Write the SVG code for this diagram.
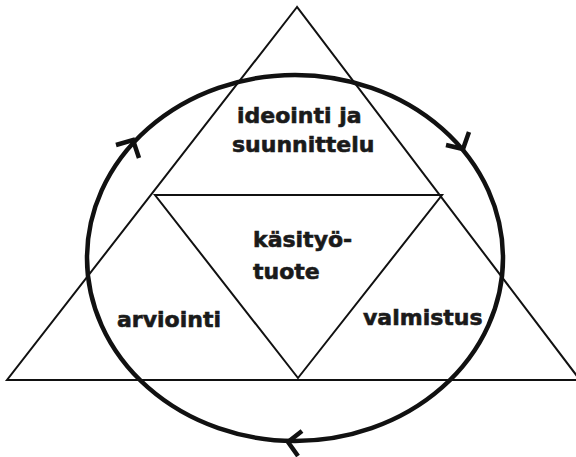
<svg xmlns="http://www.w3.org/2000/svg" width="576" height="457" viewBox="0 0 576 457">
<style>
.tri{fill:none;stroke:#111;stroke-width:2;stroke-linejoin:miter}
.cyc{fill:none;stroke:#111;stroke-width:4.5}
.arr{fill:none;stroke:#111;stroke-width:4.5;stroke-linecap:butt;stroke-linejoin:miter}
.lbl{font-family:"DejaVu Sans",Verdana,sans-serif;font-weight:bold;font-size:22px;fill:#1a1a1a;stroke:#1a1a1a;stroke-width:0.6}
</style>
<rect width="576" height="457" fill="#fff"/>
<g id="outer-triangle"><polygon class="tri" points="297,7 7,380 580,380"/></g>
<g id="inner-triangle"><polygon class="tri" points="155,195 442,195 298,378"/></g>
<g id="connectors">
<ellipse class="cyc" cx="295" cy="258" rx="208" ry="183"/>
<polyline class="arr" points="116,145 133,140 139,158"/>
<polyline class="arr" points="446,145 463,149 469,132"/>
<polyline class="arr" points="302,431 288,442 298,456"/>
</g>
<g id="ideointi"><text class="lbl" x="237" y="123">ideointi ja</text><text class="lbl" x="232" y="152">suunnittelu</text></g>
<g id="kasityotuote"><text class="lbl" x="253" y="247">käsityö-</text><text class="lbl" x="253" y="279">tuote</text></g>
<g id="arviointi"><text class="lbl" x="117" y="327">arviointi</text></g>
<g id="valmistus"><text class="lbl" x="363" y="325">valmistus</text></g>
</svg>
